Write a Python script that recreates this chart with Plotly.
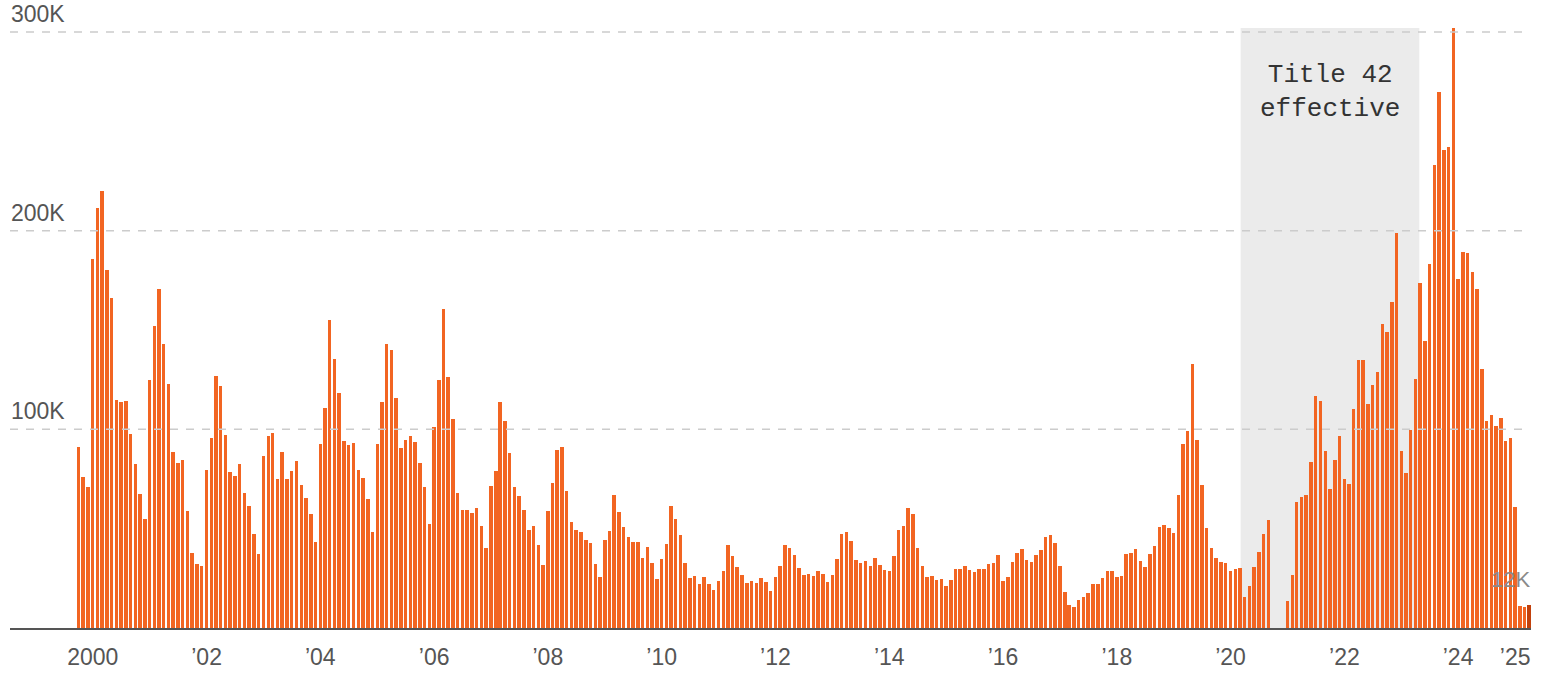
import pandas as pd
import plotly.graph_objects as go

# ---- data (monthly southwest border encounters, thousands; fiscal years Oct-Sep) ----
start_month = "1999-10-01"
fy2000 = [91.2, 76.1, 71.0, 185.9, 211.2, 220.1, 180.0, 166.2, 114.9, 113.9, 114.2, 97.6]
fy2001 = [82.5, 67.7, 54.9, 124.9, 152.1, 170.4, 142.7, 122.9, 88.8, 83.3, 84.5, 59.1]
fy2002 = [37.6, 32.2, 31.2, 79.6, 95.6, 126.9, 121.8, 97.3, 78.5, 76.5, 82.4, 68.1]
fy2003 = [61.5, 47.4, 37.5, 86.7, 96.8, 98.2, 75.1, 88.6, 75.1, 79.2, 84.2, 71.9]
fy2004 = [65.2, 57.5, 43.4, 92.4, 110.6, 154.8, 135.5, 118.5, 94.3, 92.1, 93.1, 79.7]
fy2005 = [75.6, 64.9, 48.1, 92.8, 113.6, 143.0, 140.0, 115.6, 90.6, 94.8, 96.6, 93.6]
fy2006 = [83.2, 70.8, 52.4, 101.0, 125.0, 160.7, 126.4, 105.4, 68.1, 59.3, 59.3, 57.8]
fy2007 = [60.5, 51.4, 40.2, 71.6, 79.2, 113.9, 104.4, 88.2, 71.1, 66.6, 59.5, 49.2]
fy2008 = [51.1, 41.8, 31.6, 58.7, 73.1, 89.6, 91.3, 69.1, 53.4, 49.2, 48.2, 44.4]
fy2009 = [42.7, 32.4, 25.5, 44.2, 48.9, 67.1, 58.3, 50.6, 45.9, 43.5, 43.4, 35.1]
fy2010 = [40.7, 32.6, 24.7, 34.5, 42.5, 61.2, 55.0, 46.7, 32.6, 25.4, 26.1, 22.4]
fy2011 = [25.7, 22.0, 19.2, 23.7, 28.6, 41.8, 36.0, 30.9, 26.9, 22.9, 23.9, 22.5]
fy2012 = [25.4, 23.2, 18.8, 25.5, 31.4, 42.0, 40.5, 36.8, 30.4, 26.7, 27.2, 26.2]
fy2013 = [28.9, 27.4, 23.0, 26.7, 34.8, 47.2, 48.1, 43.7, 34.3, 32.9, 33.6, 31.4]
fy2014 = [35.1, 31.8, 29.4, 28.6, 36.3, 49.4, 51.3, 60.5, 57.6, 40.5, 31.1, 25.5]
fy2015 = [26.2, 24.4, 24.7, 21.2, 24.2, 29.6, 29.6, 31.3, 29.1, 28.1, 29.9, 29.9]
fy2016 = [32.3, 32.6, 36.6, 23.5, 25.9, 33.1, 37.8, 40.0, 34.1, 33.4, 36.6, 39.2]
fy2017 = [45.9, 46.9, 43.0, 31.1, 18.3, 11.8, 10.8, 14.1, 15.8, 17.8, 22.0, 22.2]
fy2018 = [25.2, 28.7, 28.7, 25.7, 26.2, 37.1, 38.0, 40.0, 33.8, 30.9, 37.3, 41.2]
fy2019 = [50.9, 51.6, 50.4, 47.7, 66.7, 92.8, 99.2, 132.8, 94.8, 71.8, 50.4, 40.3]
fy2020 = [35.1, 33.3, 32.6, 28.9, 29.7, 30.1, 15.8, 21.2, 30.6, 38.3, 47.1, 54.5]
fy2021 = [None, None, None, 13.8, 26.7, 63.6, 65.9, 66.9, 83.7, 116.9, 114.3, 89.1]
fy2022 = [70.1, 84.4, 96.8, 75.0, 72.5, 110.2, 134.9, 134.9, 112.9, 122.3, 129.0, 153.0]
fy2023 = [149.2, 163.9, 198.8, 88.9, 78.2, 99.8, 125.3, 173.8, 144.3, 183.2, 232.8, 269.6]
fy2024 = [240.7, 242.3, 302.0, 175.9, 189.5, 188.9, 179.4, 170.4, 130.2, 104.0, 107.1, 101.6]
fy2025 = [105.9, 94.1, 95.7, 61.1, 11.3, 10.7, 11.5]

tick_years = [2000, 2002, 2004, 2006, 2008, 2010, 2012, 2014, 2016, 2018, 2020, 2022, 2024, 2025]
tick_labels = ["2000", "\u201902", "\u201904", "\u201906", "\u201908", "\u201910", "\u201912",
               "\u201914", "\u201916", "\u201918", "\u201920", "\u201922", "\u201924", "\u201925"]
grid_values = [100000, 200000, 300000]
grid_labels = ["100K", "200K", "300K"]
title42_start = "2020-03-20"
title42_end = "2023-05-11"
last_label = "12K"

# ---- build ----
values_k = (fy2000 + fy2001 + fy2002 + fy2003 + fy2004 + fy2005 + fy2006 + fy2007 + fy2008
            + fy2009 + fy2010 + fy2011 + fy2012 + fy2013 + fy2014 + fy2015 + fy2016 + fy2017
            + fy2018 + fy2019 + fy2020 + fy2021 + fy2022 + fy2023 + fy2024 + fy2025)
n = len(values_k)
months = pd.date_range(start_month, periods=n, freq="MS")
centers = [m + pd.Timedelta(days=14) for m in months]
yvals = [v * 1000 if v is not None else None for v in values_k]

bar_color = "#F26522"
last_color = "#C2410C"
colors = [bar_color] * (n - 1) + [last_color]

fig = go.Figure()
fig.add_trace(go.Bar(
    x=centers, y=yvals,
    marker=dict(color=colors, line=dict(width=0)),
    width=22.5 * 24 * 3600 * 1000,
    hoverinfo="x+y",
))

shapes = [dict(type="rect", xref="x", yref="paper", x0=title42_start, x1=title42_end,
               y0=0, y1=1, fillcolor="#EBEBEB", line=dict(width=0), layer="below")]
for gv in grid_values:
    shapes.append(dict(type="line", xref="paper", yref="y", x0=0, x1=0.995, y0=gv, y1=gv,
                       line=dict(color="#CCCCCC", width=1.5, dash="8px,8px"), layer="above"))

label_font = "Liberation Sans, Arial, sans-serif"
annotations = []
for gv, gl in zip(grid_values, grid_labels):
    annotations.append(dict(xref="paper", yref="y", x=0, y=gv, text=gl, showarrow=False,
                            xanchor="left", yanchor="bottom", yshift=3, xshift=-1,
                            font=dict(family=label_font, size=23, color="#555555")))

mid = pd.Timestamp(title42_start) + (pd.Timestamp(title42_end) - pd.Timestamp(title42_start)) / 2
annotations.append(dict(xref="x", yref="paper", x=mid, y=0.893, text="Title 42<br>effective",
                        showarrow=False, xanchor="center", yanchor="middle",
                        font=dict(family="Liberation Mono, DejaVu Sans Mono, monospace", size=26, color="#333333")))
annotations.append(dict(xref="x", yref="y", x=centers[-1], y=yvals[-1], text=last_label,
                        showarrow=False, xanchor="right", yanchor="bottom", xshift=3, yshift=11,
                        font=dict(family=label_font, size=22, color="#8A8A8A")))

fig.update_layout(
    width=1542, height=678,
    margin=dict(l=10, r=11, t=28, b=50, autoexpand=False),
    plot_bgcolor="white", paper_bgcolor="white",
    showlegend=False, bargap=0,
    shapes=shapes, annotations=annotations,
    xaxis=dict(type="date", range=["1998-08-02", "2025-04-27"], automargin=False,
               tickvals=[f"{yr}-01-15" for yr in tick_years], ticktext=tick_labels,
               showgrid=False, zeroline=False, showline=True, linecolor="#555555", linewidth=2,
               ticks="", ticklabelstandoff=7,
               tickfont=dict(family=label_font, size=23, color="#555555")),
    yaxis=dict(range=[0, 302000], showgrid=False, zeroline=False, showticklabels=False, ticks="",
               automargin=False),
)

fig.write_html("out.html", post_script="document.body.style.margin='0';",
               config={"displayModeBar": False})
